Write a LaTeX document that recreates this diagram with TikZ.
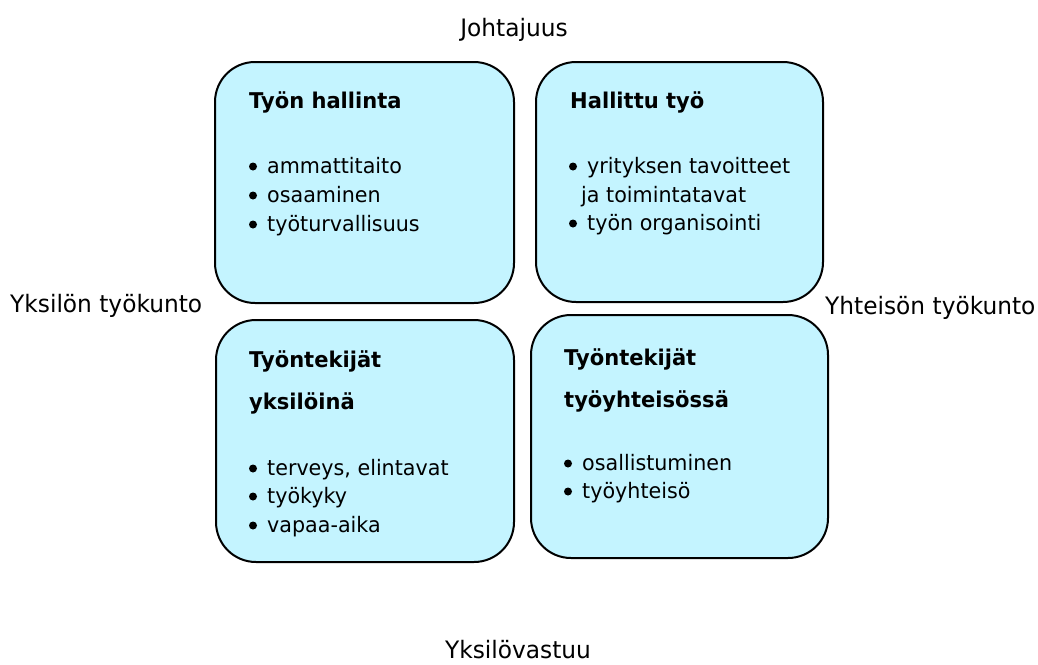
\documentclass[tikz,border=0pt]{standalone}
\usepackage{fontspec}
\setmainfont[FakeStretch=0.97]{DejaVu Sans}
\definecolor{boxfill}{RGB}{196,244,255}
\begin{document}
\begin{tikzpicture}[x=1pt,y=-1pt,
  quad/.style={draw=black, line width=2pt, fill=boxfill, rounded corners=40pt, inner sep=0pt},
  axis/.style={font=\fontsize{24}{28}\selectfont, inner sep=0pt, anchor=base},
  title/.style={font=\fontsize{21.7}{26}\selectfont\bfseries, inner sep=0pt, anchor=base west},
  item/.style={font=\fontsize{21.3}{26}\selectfont, inner sep=0pt, anchor=base west},
  blt/.style={fill=black}]
\useasboundingbox (0,0) rectangle (1038,664);

% boxes
\node[quad, minimum width=299pt, minimum height=241pt] (b1) at (364.5,182.5) {};
\node[quad, minimum width=287pt, minimum height=240pt] (b2) at (679.5,182) {};
\node[quad, minimum width=298pt, minimum height=242pt] (b3) at (365,441) {};
\node[quad, minimum width=297pt, minimum height=243pt] (b4) at (679.5,436.5) {};

% axis labels
\node[axis] (top) at (514,36) {Johtajuus};
\node[axis] (bottom) at (518,658) {Yksilövastuu};
\node[axis, anchor=base west] (left) at (10,312) {Yksilön työkunto};
\node[axis, anchor=base west] (right) at (825,314) {Yhteisön työkunto};

% box 1
\node[title] (t1) at (249,108) {Työn hallinta};
\node[item] (t1a) at (267,173) {ammattitaito};
\node[item] (t1b) at (267,202) {osaaminen};
\node[item] (t1c) at (267,231) {työturvallisuus};

% box 2
\node[title] (t2) at (570,108) {Hallittu työ};
\node[item] (t2a) at (587,173) {yrityksen tavoitteet};
\node[item] (t2b) at (581,202) {ja toimintatavat};
\node[item] (t2c) at (587,230) {työn organisointi};

% box 3
\node[title] (t3) at (249,367) {Työntekijät};
\node[title] (t3x) at (249,409) {yksilöinä};
\node[item] (t3a) at (267,475) {terveys, elintavat};
\node[item] (t3b) at (267,503) {työkyky};
\node[item] (t3c) at (267,532) {vapaa-aika};

% box 4
\node[title] (t4) at (564,365) {Työntekijät};
\node[title] (t4x) at (564,407) {työyhteisössä};
\node[item] (t4a) at (582,470) {osallistuminen};
\node[item] (t4b) at (582,498) {työyhteisö};

% bullets
\foreach \n in {t1a,t1b,t1c,t2a,t2c,t3a,t3b,t3c,t4a,t4b}
  \fill[blt] ([xshift=-14pt,yshift=6.5pt]\n.base west) circle (4pt);
\end{tikzpicture}
\end{document}
